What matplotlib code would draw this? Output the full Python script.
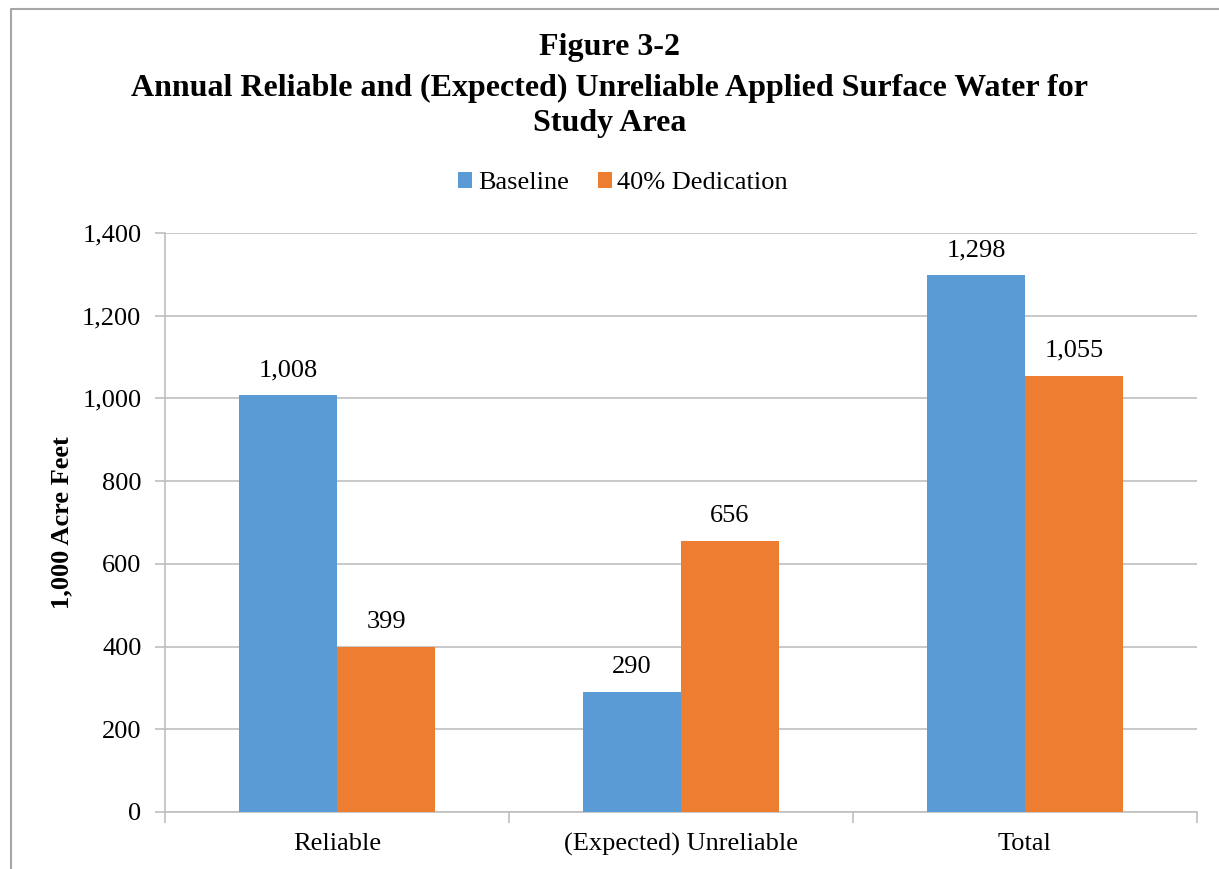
"""Figure 3-2: reliable vs unreliable applied surface water, grouped bars."""
import matplotlib
matplotlib.use("Agg")
import matplotlib.pyplot as plt
import numpy as np
from matplotlib.lines import Line2D

categories = ["Reliable", "(Expected) Unreliable", "Total"]
series = ["Baseline", "40% Dedication"]
baseline = [1008, 290, 1298]
dedication = [399, 656, 1055]
yticks = [0, 200, 400, 600, 800, 1000, 1200, 1400]

COLORS = ["#5B9BD5", "#ED7D31"]
GRID = "#BFBFBF"
FS = 19

plt.rcParams["font.family"] = ["Liberation Serif", "DejaVu Serif"]

fig = plt.figure(figsize=(12.19, 8.69), dpi=100)
ax = fig.add_axes([165 / 1219, 1 - 812 / 869, (1197 - 165) / 1219, (812 - 233) / 869])

x = np.arange(len(categories))
w = 0.285
for vals, off, col, name in [(baseline, -w / 2, COLORS[0], series[0]),
                             (dedication, w / 2, COLORS[1], series[1])]:
    bars = ax.bar(x + off, vals, width=w, color=col, label=name, zorder=3)
    for b, v in zip(bars, vals):
        ax.annotate(f"{v:,}", (b.get_x() + b.get_width() / 2, v),
                    textcoords="offset points", xytext=(0, 10),
                    ha="center", va="bottom", fontsize=FS)

ax.set_xlim(-0.5, len(categories) - 0.5)
ax.set_ylim(0, 1400)
ax.set_yticks(yticks)
ax.set_yticklabels([f"{t:,}" for t in yticks], fontsize=FS)
ax.yaxis.grid(True, color=GRID, linewidth=1.2, zorder=0)
ax.set_axisbelow(True)

ax.set_xticks(x)
ax.set_xticklabels(categories, fontsize=FS)
ax.tick_params(axis="x", length=0, pad=15)
ax.set_xticks(np.arange(-0.5, len(categories)), minor=True)
ax.tick_params(axis="x", which="minor", length=8, color=GRID, width=1.2)
ax.tick_params(axis="y", length=7, color=GRID, width=1.2, pad=10)

for s in ["top", "right"]:
    ax.spines[s].set_visible(False)
for s in ["left", "bottom"]:
    ax.spines[s].set_color(GRID)
    ax.spines[s].set_linewidth(1.2)

ax.set_ylabel("1,000 Acre Feet", fontsize=FS, fontweight="bold")
ax.yaxis.set_label_coords((73 - 165) / 1032, 0.5)

fig.text(0.5, 1 - 47 / 869, "Figure 3-2", ha="center", va="center",
         fontsize=23, fontweight="bold")
fig.text(0.5, 1 - 106 / 869,
         "Annual Reliable and (Expected) Unreliable Applied Surface Water for\nStudy Area",
         ha="center", va="center", fontsize=23, fontweight="bold", linespacing=1.3)

ax.legend(loc="center", bbox_to_anchor=(623 / 1219, 1 - 183 / 869),
          bbox_transform=fig.transFigure, ncol=2, frameon=False, fontsize=FS,
          handlelength=0.55, handleheight=0.55, handletextpad=0.2, columnspacing=1.1)

# outer chart frame (only left and top edges are visible in the crop)
fig.add_artist(Line2D([11 / 1219, 11 / 1219, 1.0], [0.0, 1 - 9 / 869, 1 - 9 / 869],
                      transform=fig.transFigure, color="#A6A6A6", linewidth=1.5))

fig.savefig("out.png", dpi=100)
